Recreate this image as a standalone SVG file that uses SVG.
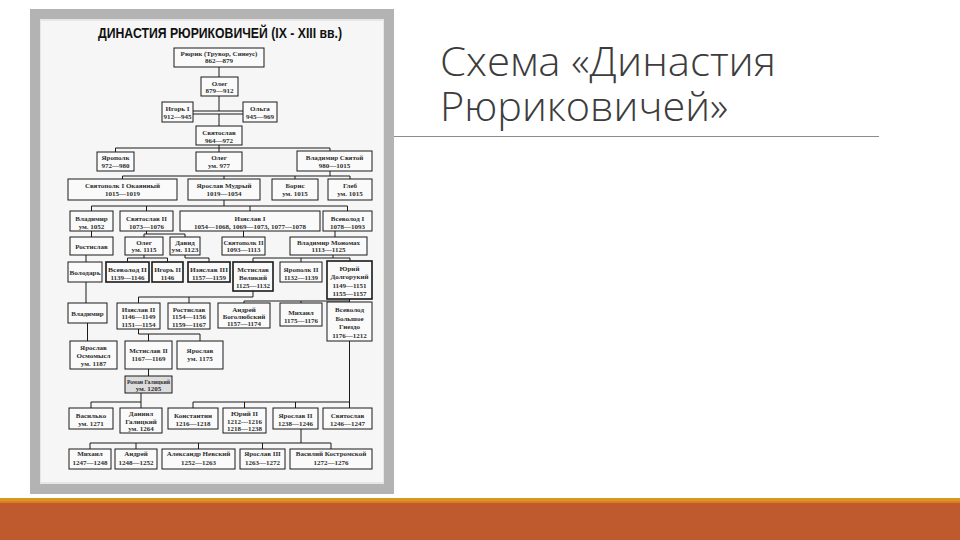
<svg xmlns="http://www.w3.org/2000/svg" width="960" height="540" viewBox="0 0 960 540">
<style>
.n rect{fill:#fafafa;stroke:#1a1a1a;stroke-width:1}
.b rect{stroke-width:1.6}
.n text{font-family:"Liberation Serif","DejaVu Serif",serif;font-size:7px;font-weight:bold;fill:#2e2e2e;text-anchor:middle}
.c path{fill:none;stroke:#1a1a1a;stroke-width:1}
.ttl{font-family:"Open Sans","Noto Sans",sans-serif;font-weight:300;font-size:40px;fill:#3c3c3c}
</style>
<rect width="960" height="540" fill="#ffffff"/>
<!-- slide title -->
<text class="ttl"><tspan x="440" y="76" textLength="336" lengthAdjust="spacingAndGlyphs">Схема «Династия</tspan><tspan x="440" y="121" textLength="288" lengthAdjust="spacingAndGlyphs">Рюриковичей»</tspan></text>
<line x1="393" y1="136.5" x2="879" y2="136.5" stroke="#8c8c8c" stroke-width="1"/>
<!-- bottom bar -->
<rect x="0" y="498" width="960" height="3" fill="#d49a1f"/>
<rect x="0" y="501" width="960" height="2" fill="#e07a28"/>
<rect x="0" y="503" width="960" height="37" fill="#bf5a2f"/>
<!-- scan frame -->
<rect x="30" y="9" width="364" height="485" fill="#b3b3b3"/>
<rect x="40" y="19" width="344" height="465" fill="#e6e6e6"/>
<rect x="41" y="21" width="342" height="461" fill="#f6f6f6"/>
<text x="220" y="38" text-anchor="middle" font-family="Liberation Sans,Arial,sans-serif" font-weight="bold" font-size="14" fill="#111" textLength="244" lengthAdjust="spacingAndGlyphs">ДИНАСТИЯ РЮРИКОВИЧЕЙ (IX - XIII вв.)</text>
<g class="c" id="connectors">
<path d="M219,67V77 M219,96V111 M193,111H243 M193,114H243 M219,114V126"/>
<path d="M219,145V148 M115.5,148H330 M115.5,148V152 M219,148V152 M330,148V151"/>
<path d="M330,171V176 M122.5,176H350 M122.5,176V179 M224,176V179 M295,176V179 M350,176V179"/>
<path d="M224,200V206 M91.5,206H347.5 M91.5,206V211 M146.5,206V211 M250,206V211 M347.5,206V211"/>
<path d="M91.5,231V237 M146.5,231V234 M144,234H185 M144,234V237 M185,234V237 M243.5,231V237 M335,231V237"/>
<path d="M86,255V262 M144,255V258 M127.5,258H167.5 M127.5,258V262 M167.5,258V262 M185,255V258H209V262"/>
<path d="M333,255V258 M253,258H350 M253,258V262 M301,258V262 M350,258V261"/>
<path d="M86,282V303 M253,291V297 M138.5,297H253 M138.5,297V303 M189,297V303"/>
<path d="M349.5,299V302 M244,301H349.5 M244,301V303 M301,301V303"/>
<path d="M87.5,323V341 M138.5,329V334H200 M148.5,334V341 M200,334V341 M148.5,369V376"/>
<path d="M141,393V402 M91,402H141 M91,402V408 M141,402V408"/>
<path d="M349.5,341V402 M193,402H349.5 M193,402V408 M244.5,402V408 M295.5,402V408 M349.5,402V408"/>
<path d="M301,429V443 M90,443H331 M90,443V449 M136,443V449 M198.5,443V449 M262.5,443V449 M331,443V449"/>
</g>
<g class="n" id="n-ryurik"><rect x="174" y="48" width="90" height="19"/><text x="219" y="55.5">Рюрик (Трувор, Синеус)</text><text x="219" y="63">862—879</text></g>
<g class="n" id="n-oleg1"><rect x="201" y="77" width="37" height="19"/><text x="219.5" y="85.5">Олег</text><text x="219.5" y="93">879—912</text></g>
<g class="n" id="n-igor1"><rect x="162" y="102" width="31" height="20"/><text x="177.5" y="110.5">Игорь I</text><text x="177.5" y="118.5">912—945</text></g>
<g class="n" id="n-olga"><rect x="243" y="102" width="34" height="20"/><text x="260" y="110.5">Ольга</text><text x="260" y="118.5">945—969</text></g>
<g class="n" id="n-svyatoslav1"><rect x="196" y="126" width="46" height="19"/><text x="219" y="134.5">Святослав</text><text x="219" y="142.5">964—972</text></g>
<g class="n" id="n-yaropolk1"><rect x="97" y="152" width="37" height="19"/><text x="115.5" y="159.5">Ярополк</text><text x="115.5" y="167.5">972—980</text></g>
<g class="n" id="n-oleg2"><rect x="196" y="152" width="46" height="19"/><text x="219" y="159.5">Олег</text><text x="219" y="167.5">ум. 977</text></g>
<g class="n" id="n-vladimir-svyatoy"><rect x="297" y="151" width="75" height="20"/><text x="334.5" y="159.5">Владимир Святой</text><text x="334.5" y="167.5">980—1015</text></g>
<g class="n" id="n-svyatopolk1"><rect x="68" y="179" width="109" height="21"/><text x="122.5" y="187.5">Святополк I Окаянный</text><text x="122.5" y="195.5">1015—1019</text></g>
<g class="n" id="n-yaroslav-mudry"><rect x="188" y="179" width="72" height="21"/><text x="224" y="187.5">Ярослав Мудрый</text><text x="224" y="195.5">1019—1054</text></g>
<g class="n" id="n-boris"><rect x="272" y="179" width="46" height="21"/><text x="295" y="187.5">Борис</text><text x="295" y="195.5">ум. 1015</text></g>
<g class="n" id="n-gleb"><rect x="328" y="179" width="44" height="21"/><text x="350" y="187.5">Глеб</text><text x="350" y="195.5">ум. 1015</text></g>
<g class="n" id="n-vladimir2"><rect x="70" y="211" width="43" height="20"/><text x="91.5" y="220.5">Владимир</text><text x="91.5" y="228.5">ум. 1052</text></g>
<g class="n" id="n-svyatoslav2"><rect x="120" y="211" width="53" height="20"/><text x="146.5" y="220.5">Святослав II</text><text x="146.5" y="228.5">1073—1076</text></g>
<g class="n" id="n-izyaslav1"><rect x="180" y="211" width="140" height="20"/><text x="250" y="220.5">Изяслав I</text><text x="250" y="228.5">1054—1068, 1069—1073, 1077—1078</text></g>
<g class="n" id="n-vsevolod1"><rect x="323" y="211" width="49" height="20"/><text x="347.5" y="220.5">Всеволод I</text><text x="347.5" y="228.5">1078—1093</text></g>
<g class="n" id="n-rostislav1"><rect x="70" y="237" width="43" height="18"/><text x="91.5" y="248.5">Ростислав</text></g>
<g class="n" id="n-oleg3"><rect x="125" y="237" width="38" height="18"/><text x="144" y="244.5">Олег</text><text x="144" y="252">ум. 1115</text></g>
<g class="n" id="n-david"><rect x="170" y="237" width="30" height="18"/><text x="185" y="244.5">Давид</text><text x="185" y="252" textLength="27" lengthAdjust="spacingAndGlyphs">ум. 1123</text></g>
<g class="n" id="n-svyatopolk2"><rect x="222" y="237" width="43" height="18"/><text x="243.5" y="244.5" textLength="40" lengthAdjust="spacingAndGlyphs">Святополк II</text><text x="243.5" y="252">1093—1113</text></g>
<g class="n" id="n-monomakh"><rect x="290" y="237" width="77" height="18"/><text x="328.5" y="244.5">Владимир Мономах</text><text x="328.5" y="252">1113—1125</text></g>
<g class="n" id="n-volodar"><rect x="68" y="262" width="34" height="20"/><text x="85" y="274.5" textLength="31" lengthAdjust="spacingAndGlyphs">Володарь</text></g>
<g class="n b" id="n-vsevolod2"><rect x="106" y="262" width="43" height="20"/><text x="127.5" y="271.5" textLength="39" lengthAdjust="spacingAndGlyphs">Всеволод II</text><text x="127.5" y="279.5">1139—1146</text></g>
<g class="n b" id="n-igor2"><rect x="152" y="262" width="31" height="20"/><text x="167.5" y="271.5">Игорь II</text><text x="167.5" y="279.5">1146</text></g>
<g class="n b" id="n-izyaslav3"><rect x="188" y="262" width="42" height="20"/><text x="209" y="271.5" textLength="38" lengthAdjust="spacingAndGlyphs">Изяслав III</text><text x="209" y="279.5">1157—1159</text></g>
<g class="n b" id="n-mstislav-veliky"><rect x="233" y="262" width="40" height="29"/><text x="253" y="271.5">Мстислав</text><text x="253" y="279.5">Великий</text><text x="253" y="287.5">1125—1132</text></g>
<g class="n" id="n-yaropolk2"><rect x="280" y="262" width="42" height="20"/><text x="301" y="271.5">Ярополк II</text><text x="301" y="279.5">1132—1139</text></g>
<g class="n b" id="n-yury-dolgoruky"><rect x="327" y="261" width="45" height="38"/><text x="349.5" y="270.5">Юрий</text><text x="349.5" y="279">Долгорукий</text><text x="349.5" y="287.5">1149—1151</text><text x="349.5" y="296">1155—1157</text></g>
<g class="n" id="n-vladimir3"><rect x="68" y="303" width="39" height="20"/><text x="87.5" y="315.5">Владимир</text></g>
<g class="n" id="n-izyaslav2"><rect x="117" y="303" width="43" height="26"/><text x="138.5" y="311.5">Изяслав II</text><text x="138.5" y="319">1146—1149</text><text x="138.5" y="326.5">1151—1154</text></g>
<g class="n" id="n-rostislav2"><rect x="168" y="303" width="42" height="26"/><text x="189" y="311.5">Ростислав</text><text x="189" y="319">1154—1156</text><text x="189" y="326.5">1159—1167</text></g>
<g class="n" id="n-andrey-bogolyubsky"><rect x="218" y="303" width="52" height="25"/><text x="244" y="311.5">Андрей</text><text x="244" y="319">Боголюбский</text><text x="244" y="326">1157—1174</text></g>
<g class="n" id="n-mikhail1"><rect x="280" y="303" width="42" height="23"/><text x="301" y="315">Михаил</text><text x="301" y="322.5">1175—1176</text></g>
<g class="n" id="n-vsevolod-bg"><rect x="327" y="302" width="45" height="39"/><text x="349.5" y="312">Всеволод</text><text x="349.5" y="320.5">Большое</text><text x="349.5" y="329">Гнездо</text><text x="349.5" y="337.5">1176—1212</text></g>
<g class="n" id="n-yaroslav-osmomysl"><rect x="70" y="341" width="47" height="28"/><text x="93.5" y="349.5">Ярослав</text><text x="93.5" y="357.5">Осмомысл</text><text x="93.5" y="365.5">ум. 1187</text></g>
<g class="n" id="n-mstislav2"><rect x="125" y="341" width="47" height="28"/><text x="148.5" y="352.5">Мстислав II</text><text x="148.5" y="360.5">1167—1169</text></g>
<g class="n" id="n-yaroslav"><rect x="177" y="341" width="46" height="28"/><text x="200" y="352.5">Ярослав</text><text x="200" y="360.5">ум. 1175</text></g>
<g class="n" id="n-roman"><rect x="125" y="376" width="47" height="17" style="fill:#dcdcdc"/><text x="148.5" y="384" textLength="43" lengthAdjust="spacingAndGlyphs">Роман Галицкий</text><text x="148.5" y="391">ум. 1205</text></g>
<g class="n" id="n-vasilko"><rect x="69" y="408" width="44" height="21"/><text x="91" y="417.5">Василько</text><text x="91" y="425.5">ум. 1271</text></g>
<g class="n" id="n-daniil"><rect x="120" y="408" width="42" height="25"/><text x="141" y="416">Даниил</text><text x="141" y="423.5">Галицкий</text><text x="141" y="431">ум. 1264</text></g>
<g class="n" id="n-konstantin"><rect x="168" y="408" width="50" height="21"/><text x="193" y="417.5">Константин</text><text x="193" y="425.5">1216—1218</text></g>
<g class="n" id="n-yury2"><rect x="223" y="408" width="43" height="25"/><text x="244.5" y="416">Юрий II</text><text x="244.5" y="423.5">1212—1216</text><text x="244.5" y="431">1218—1238</text></g>
<g class="n" id="n-yaroslav2"><rect x="273" y="408" width="45" height="21"/><text x="295.5" y="417.5">Ярослав II</text><text x="295.5" y="425.5">1238—1246</text></g>
<g class="n" id="n-svyatoslav3"><rect x="323" y="408" width="49" height="21"/><text x="347.5" y="417.5">Святослав</text><text x="347.5" y="425.5">1246—1247</text></g>
<g class="n" id="n-mikhail2"><rect x="69" y="449" width="42" height="20"/><text x="90" y="456">Михаил</text><text x="90" y="464.5">1247—1248</text></g>
<g class="n" id="n-andrey2"><rect x="115" y="449" width="42" height="20"/><text x="136" y="456">Андрей</text><text x="136" y="464.5">1248—1252</text></g>
<g class="n" id="n-nevsky"><rect x="162" y="449" width="73" height="20"/><text x="198.5" y="456">Александр Невский</text><text x="198.5" y="464.5">1252—1263</text></g>
<g class="n" id="n-yaroslav3"><rect x="240" y="449" width="45" height="20"/><text x="262.5" y="456">Ярослав III</text><text x="262.5" y="464.5">1263—1272</text></g>
<g class="n" id="n-vasily"><rect x="290" y="449" width="82" height="20"/><text x="331" y="456">Василий Костромской</text><text x="331" y="464.5">1272—1276</text></g>
</svg>
